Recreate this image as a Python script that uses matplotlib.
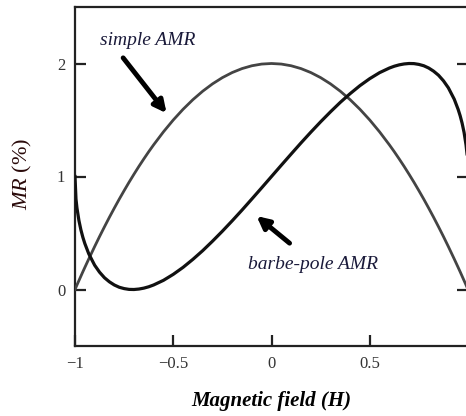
import matplotlib.pyplot as plt

plt.rcParams['mathtext.fontset'] = 'custom'
plt.rcParams['mathtext.it'] = 'Liberation Serif:italic'
plt.rcParams['mathtext.rm'] = 'Liberation Serif'

# values
field = [-1.0, -0.995, -0.99, -0.98, -0.97, -0.96, -0.95, -0.93, -0.9, -0.875,
         -0.85, -0.825, -0.8, -0.775, -0.75, -0.725, -0.7, -0.675, -0.65, -0.625,
         -0.6, -0.55, -0.5, -0.45, -0.4, -0.35, -0.3, -0.25, -0.2, -0.15, -0.1,
         -0.05, 0.0, 0.05, 0.1, 0.15, 0.2, 0.25, 0.3, 0.35, 0.4, 0.45, 0.5, 0.55,
         0.6, 0.625, 0.65, 0.675, 0.7, 0.725, 0.75, 0.775, 0.8, 0.825, 0.85,
         0.875, 0.9, 0.93, 0.95, 0.96, 0.97, 0.98, 0.99, 0.995]
simple_amr = [0.000, 0.020, 0.040, 0.079, 0.118, 0.157, 0.195, 0.270, 0.380, 0.469,
              0.555, 0.639, 0.720, 0.799, 0.875, 0.949, 1.020, 1.089, 1.155, 1.219,
              1.280, 1.395, 1.500, 1.595, 1.680, 1.755, 1.820, 1.875, 1.920, 1.955,
              1.980, 1.995, 2.000, 1.995, 1.980, 1.955, 1.920, 1.875, 1.820, 1.755,
              1.680, 1.595, 1.500, 1.395, 1.280, 1.219, 1.155, 1.089, 1.020, 0.949,
              0.875, 0.799, 0.720, 0.639, 0.555, 0.469, 0.380, 0.270, 0.195, 0.157,
              0.118, 0.079, 0.040, 0.020]
barber_amr = [1.000, 0.801, 0.721, 0.610, 0.528, 0.462, 0.407, 0.316, 0.215, 0.153,
              0.104, 0.068, 0.040, 0.020, 0.008, 0.001, 0.000, 0.004, 0.012, 0.024,
              0.040, 0.081, 0.134, 0.196, 0.267, 0.344, 0.428, 0.516, 0.608, 0.703,
              0.801, 0.900, 1.000, 1.100, 1.199, 1.297, 1.392, 1.484, 1.572, 1.656,
              1.733, 1.804, 1.866, 1.919, 1.960, 1.976, 1.988, 1.996, 2.000, 1.999,
              1.992, 1.980, 1.960, 1.932, 1.896, 1.847, 1.785, 1.684, 1.593, 1.538,
              1.472, 1.390, 1.279, 1.199]
x_ticks = [-1, -0.5, 0, 0.5]
x_tick_labels = ['\u22121', '\u22120.5', '0', '0.5']
y_ticks = [0, 1, 2]

serif = ['Liberation Serif', 'DejaVu Serif']

fig = plt.figure(figsize=(4.66, 4.16), dpi=100)
ax = fig.add_axes([75 / 466, 70 / 416, 393 / 466, 339 / 416])

ax.plot(field, simple_amr, color='#444444', lw=2.0, zorder=3)
ax.plot(field, barber_amr, color='#111111', lw=2.3, zorder=3)

ax.set_xlim(-1, 1)
ax.set_ylim(-0.5, 2.5)
ax.set_xticks(x_ticks)
ax.set_xticklabels(x_tick_labels)
ax.set_yticks(y_ticks)
ax.tick_params(direction='in', length=8, width=1.6, color='#222222',
               labelsize=12, labelcolor='#333333', right=True, pad=7)
for lab in ax.get_xticklabels() + ax.get_yticklabels():
    lab.set_family(serif)
for sp in ax.spines.values():
    sp.set_linewidth(1.6)
    sp.set_color('#222222')

arrow = dict(arrowstyle='-|>', color='black', lw=3.5, mutation_scale=18,
             shrinkA=0, shrinkB=0)
ax.annotate('', xy=(-0.534, 1.56), xytext=(-0.755, 2.05), arrowprops=arrow)
ax.annotate('', xy=(-0.076, 0.65), xytext=(0.092, 0.41), arrowprops=arrow)
ax.text(-0.63, 2.2, 'simple AMR', ha='center', va='center', fontsize=14,
        style='italic', family=serif, color='#1a1a3a')
ax.text(0.21, 0.22, 'barbe-pole AMR', ha='center', va='center', fontsize=14,
        style='italic', family=serif, color='#1a1a3a')

ax.set_xlabel('Magnetic field (H)', fontsize=15, fontweight='bold',
              style='italic', family=serif, labelpad=14)
fig.text(22 / 466, 1 - 174 / 416, r'$MR$ (%)', rotation=90,
         ha='center', va='center', fontsize=16, family=serif, color='#2a0a0a')

fig.savefig('out.png', dpi=100)
